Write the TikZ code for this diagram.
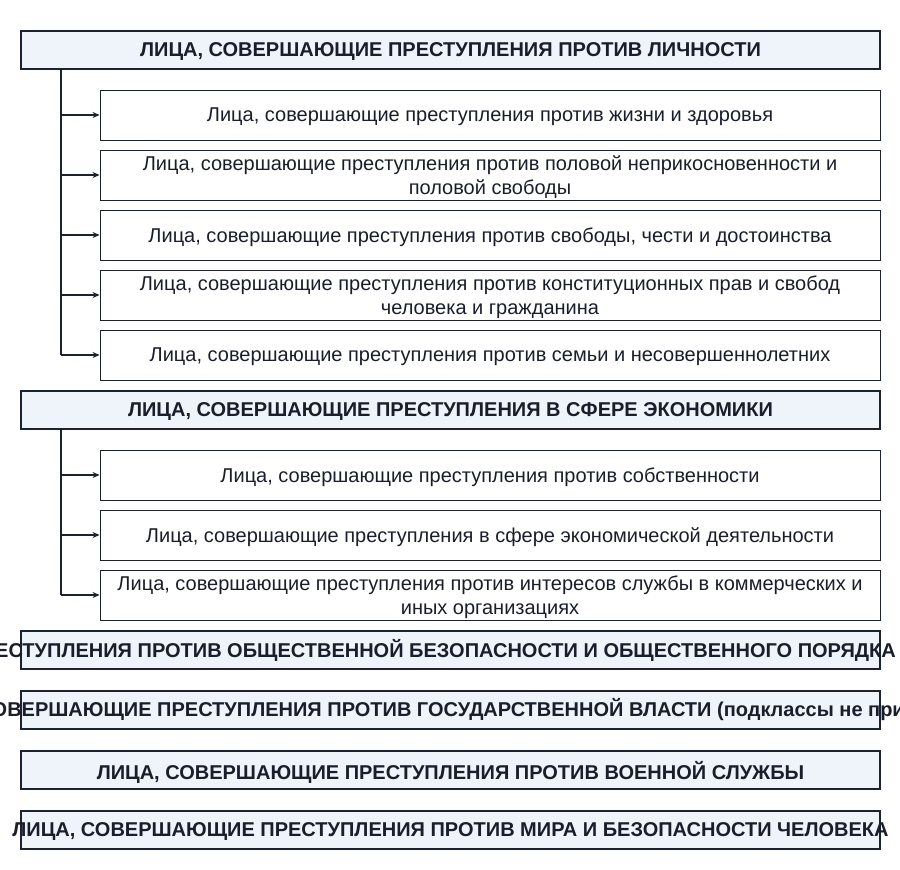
\documentclass[tikz,border=0pt]{standalone}
\usepackage{fontspec}
\setmainfont{Liberation Sans}
\usetikzlibrary{positioning, arrows.meta, calc}

\definecolor{lineDark}{RGB}{28,34,48}
\definecolor{headFill}{RGB}{239,243,250}
\definecolor{textDark}{RGB}{26,30,42}

\tikzset{
  classbox/.style={draw=lineDark, line width=2pt, fill=headFill, text=textDark,
    minimum width=859pt, minimum height=38pt, inner sep=0pt, text depth=0pt,
    font=\fontsize{20}{24}\selectfont\bfseries},
  classtext/.style={text=textDark, inner sep=0pt,
    font=\fontsize{20}{24}\selectfont\bfseries},
  subbox/.style={draw=lineDark, line width=0.9pt, fill=white, text=textDark,
    minimum width=780pt, minimum height=50pt, inner sep=0pt, align=center,
    text depth=0pt, font=\fontsize{20}{24}\selectfont},
  trunk/.style={draw=lineDark, line width=2pt},
  branch/.style={draw=lineDark, line width=2pt, -{Stealth[length=7pt, width=6pt]}}
}
\newcommand{\wide}[1]{\makebox[0pt]{#1}}

\begin{document}
\begin{tikzpicture}[x=1pt, y=-1pt]
  \useasboundingbox (0,0) rectangle (900,870);

  % first class and its subclasses
  \node[classbox] (persona) at (450.5,50) {ЛИЦА, СОВЕРШАЮЩИЕ ПРЕСТУПЛЕНИЯ ПРОТИВ ЛИЧНОСТИ};
  \foreach \i/\y/\txt in {1/115/{Лица, совершающие преступления против жизни и здоровья},
      2/175/{Лица, совершающие преступления против половой неприкосновенности и\\половой свободы},
      3/235/{Лица, совершающие преступления против свободы, чести и достоинства},
      4/295/{Лица, совершающие преступления против конституционных прав и свобод\\человека и гражданина},
      5/355/{Лица, совершающие преступления против семьи и несовершеннолетних}}{
    \node[subbox] (pers\i) at (490,\y) {\txt};
  }
  \coordinate (persTop) at (61,69);
  \draw[trunk] (persTop) -- (persTop |- pers5.west);
  \foreach \i in {1,...,5}{
    \draw[branch] (persTop |- pers\i.west) -- (pers\i.west);
  }

  % second class and its subclasses
  \node[classbox] (econ) at (450.5,410) {ЛИЦА, СОВЕРШАЮЩИЕ ПРЕСТУПЛЕНИЯ В СФЕРЕ ЭКОНОМИКИ};
  \foreach \i/\y/\txt in {1/475/{Лица, совершающие преступления против собственности},
      2/535/{Лица, совершающие преступления в сфере экономической деятельности},
      3/595/{Лица, совершающие преступления против интересов службы в коммерческих и\\иных организациях}}{
    \node[subbox] (econ\i) at (490,\y) {\txt};
  }
  \coordinate (econTop) at (61,429);
  \draw[trunk] (econTop) -- (econTop |- econ3.west);
  \foreach \i in {1,...,3}{
    \draw[branch] (econTop |- econ\i.west) -- (econ\i.west);
  }

  % remaining classes (long titles run past the boxes)
  \node[classbox] (safety) at (450.5,650) {};
  \node[classtext, anchor=east] (safetyText) at ([xshift=15pt]safety.east)
    {ЛИЦА, СОВЕРШАЮЩИЕ ПРЕСТУПЛЕНИЯ ПРОТИВ ОБЩЕСТВЕННОЙ БЕЗОПАСНОСТИ И ОБЩЕСТВЕННОГО ПОРЯДКА};
  \node[classbox] (power) at (450.5,710) {};
  \node[classtext, anchor=west] (powerText) at ([xshift=-111pt]power.west)
    {ЛИЦА, СОВЕРШАЮЩИЕ ПРЕСТУПЛЕНИЯ ПРОТИВ ГОСУДАРСТВЕННОЙ ВЛАСТИ (подклассы не приводятся)};
  \node[classbox] (army) at (450.5,770) {ЛИЦА, СОВЕРШАЮЩИЕ ПРЕСТУПЛЕНИЯ ПРОТИВ ВОЕННОЙ СЛУЖБЫ};
  \node[classbox] (peace) at (450.5,830) {\wide{ЛИЦА, СОВЕРШАЮЩИЕ ПРЕСТУПЛЕНИЯ ПРОТИВ МИРА И БЕЗОПАСНОСТИ ЧЕЛОВЕКА}};
\end{tikzpicture}
\end{document}
